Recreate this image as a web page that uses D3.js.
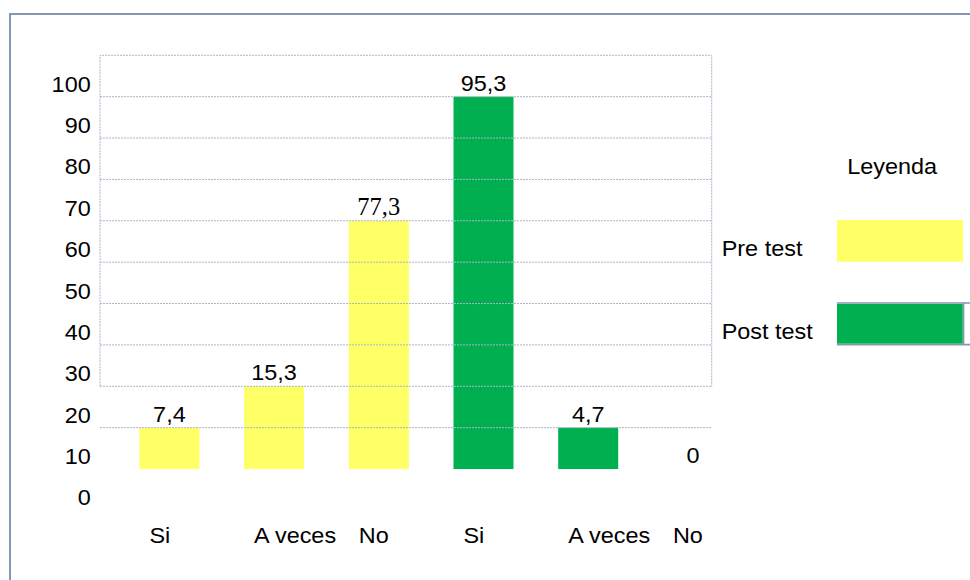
<!DOCTYPE html>
<html>
<head>
<meta charset="utf-8">
<script src="https://cdn.jsdelivr.net/npm/d3@7"></script>
<style>
  body { margin: 0; background: #fff; }
  svg { display: block; }
</style>
</head>
<body>
<svg id="chart"></svg>
<script>
// data
const tests = ["Pre test", "Post test"];
const answers = ["Si", "A veces", "No"];
const preValues = [7.4, 15.3, 77.3];
const postValues = [95.3, 4.7, 0];
// the bars in the picture do not follow the values; these are the tops as drawn (axis units)
const preBarTops = [20, 30, 70];
const postBarTops = [100, 20, 10];
const barBase = 10;
const yTicks = [0, 10, 20, 30, 40, 50, 60, 70, 80, 90, 100];
const gridValues = [20, 30, 40, 50, 60, 70, 80, 90, 100];
const testColors = ["#FFFF66", "#00B050"];

const width = 970;
const height = 580;
const plot = { left: 100, right: 711.7 };
const barW = 60;
const sans = "'Liberation Sans', Arial, sans-serif";
const serif = "'Liberation Serif', 'Times New Roman', serif";

const svg = d3.select('svg#chart').attr('width', width).attr('height', height);

let rows = tests.flatMap((t, g) => answers.map((a, i) => ({
  test: t,
  answer: a,
  id: t + '|' + a,
  value: g === 0 ? preValues[i] : postValues[i],
  top: g === 0 ? preBarTops[i] : postBarTops[i],
  color: testColors[g]
})));

const y = d3.scaleLinear().domain([0, 110]).range([510.4, 55.3]);
const x = d3.scaleBand().domain(rows.map(d => d.id)).range([139.4, 767.6]).padding(0);

// text in the picture is a bit wider than normal, so stretch it
function label(parent, str, px, py, anchor, opt = {}) {
  return parent.append('text')
    .attr('transform', `translate(${px},${py}) scale(${opt.sx || 1.09},1)`)
    .attr('text-anchor', anchor)
    .style('font-family', opt.family || sans)
    .style('font-size', (opt.size || 21.5) + 'px')
    .attr('fill', '#000')
    .text(str);
}

// outer frame, only top and left edges show
svg.append('path')
  .attr('d', `M10,${height} V14 H${width}`)
  .attr('fill', 'none')
  .attr('stroke', '#8497B0')
  .attr('stroke-width', 2);

// bars
svg.append('g').selectAll('rect')
  .data(rows.filter(d => d.top > barBase))
  .enter().append('rect')
  .attr('x', d => x(d.id))
  .attr('y', d => y(d.top))
  .attr('width', barW)
  .attr('height', d => y(barBase) - y(d.top))
  .attr('fill', d => d.color);

// dotted grid, drawn over the bars
const grid = svg.append('g')
  .attr('stroke', '#A9B5C9')
  .attr('stroke-width', 1)
  .attr('stroke-dasharray', '2,1')
  .attr('fill', 'none');
grid.selectAll('line').data(gridValues).enter().append('line')
  .attr('x1', plot.left).attr('x2', plot.right)
  .attr('y1', d => y(d)).attr('y2', d => y(d));
grid.append('path')
  .attr('d', `M${plot.left},${y(30)} V${y(110)} H${plot.right} V${y(30)}`);

// y axis labels
const axisY = svg.append('g')
  .attr('transform', `translate(${plot.left},0)`)
  .call(d3.axisLeft(y).tickValues(yTicks).tickSize(0));
axisY.select('.domain').remove();
axisY.selectAll('text')
  .attr('x', null).attr('dy', null)
  .attr('transform', 'translate(-9.3,-5.5) scale(1.09,1)')
  .style('font-family', sans)
  .style('font-size', '21.5px')
  .attr('fill', '#000');

// value labels on top of the drawn bars
const fmt = v => String(v).replace('.', ',');
const vals = svg.append('g');
rows.forEach(d => {
  const isSerif = d.test === 'Pre test' && d.answer === 'No';
  label(vals, fmt(d.value), x(d.id) + barW / 2, y(d.top) - 6, 'middle',
    isSerif ? { family: serif, size: 24.5, sx: 1 } : {});
});

// category labels
const cats = svg.append('g');
rows.forEach(d => {
  label(cats, d.answer, x(d.id) + 10, 542.7, 'start');
});

// legend
const legend = svg.append('g');
label(legend, 'Leyenda', 847.3, 174.3, 'start');
label(legend, tests[0], 721.7, 255.7, 'start');
label(legend, tests[1], 721.7, 339, 'start');
legend.append('rect')
  .attr('x', 837).attr('y', 220).attr('width', 126).attr('height', 41.7)
  .attr('fill', testColors[0]);
legend.append('path')
  .attr('d', `M837,303 H${width} M837,344.7 H${width} M963.5,303 V344.7`)
  .attr('stroke', '#8497B0').attr('stroke-width', 1.7).attr('fill', 'none');
legend.append('rect')
  .attr('x', 837).attr('y', 304).attr('width', 125.7).attr('height', 39.7)
  .attr('fill', testColors[1]);
</script>
</body>
</html>
